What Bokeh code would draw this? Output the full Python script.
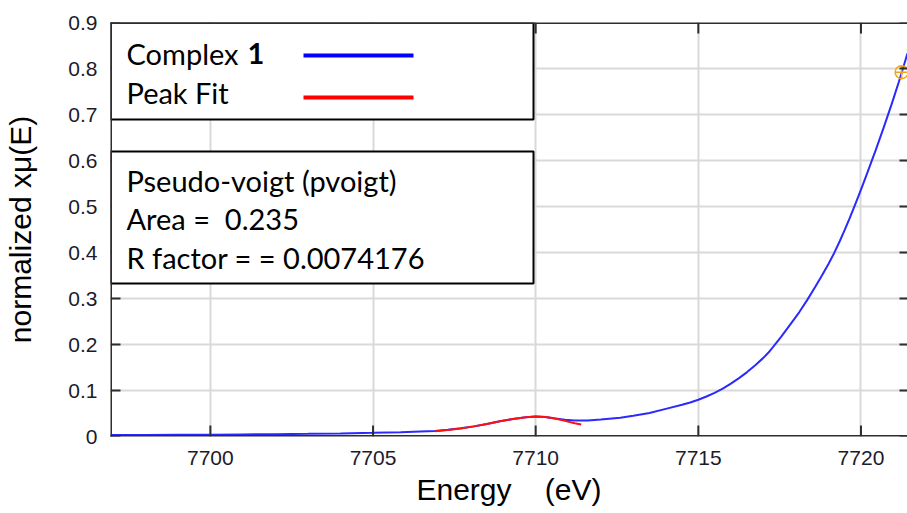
from bokeh.plotting import figure
from bokeh.models import Range1d, FixedTicker, BoxAnnotation, Label
from bokeh.embed import file_html
from bokeh.resources import INLINE

# ---------------- data ----------------
energy = [7696.93, 7698.0, 7699.0, 7700.0, 7701.0, 7702.0, 7703.0, 7704.0, 7705.0,
          7705.85, 7706.45, 7706.9, 7707.3, 7707.7, 7708.1, 7708.5, 7708.9, 7709.3,
          7709.7, 7710.0, 7710.3, 7710.6, 7710.9, 7711.2, 7711.6, 7712.0, 7712.6,
          7713.0, 7713.5, 7714.0, 7714.5, 7714.75, 7715.0, 7715.25, 7715.5, 7715.75,
          7716.0, 7716.25, 7716.5, 7716.75, 7717.0, 7717.15, 7717.3, 7717.55, 7717.8,
          7718.1, 7718.35, 7718.6, 7718.8, 7719.0, 7719.17, 7719.35, 7719.5, 7719.65,
          7719.78, 7719.92, 7720.05, 7720.2, 7720.33, 7720.45, 7720.58, 7720.7,
          7720.82, 7720.94, 7721.05, 7721.16, 7721.26, 7721.35, 7721.43]
mu = [0.003, 0.0033, 0.0036, 0.004, 0.0045, 0.005, 0.0058, 0.0067, 0.008,
      0.0094, 0.011, 0.012, 0.0145, 0.018, 0.022, 0.027, 0.033, 0.038,
      0.042, 0.0435, 0.0425, 0.039, 0.0365, 0.035, 0.035, 0.037, 0.041,
      0.045, 0.051, 0.060, 0.069, 0.074, 0.080, 0.087, 0.095, 0.104,
      0.115, 0.127, 0.140, 0.155, 0.171, 0.182, 0.195, 0.217, 0.241,
      0.270, 0.297, 0.326, 0.350, 0.375, 0.398, 0.425, 0.449, 0.474,
      0.497, 0.522, 0.546, 0.574, 0.599, 0.622, 0.648, 0.672,
      0.697, 0.722, 0.746, 0.770, 0.793, 0.814, 0.833]

fit_energy = [7706.9, 7707.3, 7707.7, 7708.1, 7708.5, 7708.9, 7709.3, 7709.7,
              7710.0, 7710.3, 7710.6, 7710.9, 7711.2, 7711.4]
fit_mu = [0.0116, 0.014, 0.0175, 0.022, 0.027, 0.033, 0.038, 0.042,
          0.0435, 0.0425, 0.039, 0.034, 0.029, 0.026]

marker_energy = [7721.25]
marker_mu = [0.792]

x_ticks = [7700, 7705, 7710, 7715, 7720]
x_tick_labels = ["7700", "7705", "7710", "7715", "7720"]
y_ticks = [0, 0.1, 0.2, 0.3, 0.4, 0.5, 0.6, 0.7, 0.8, 0.9]
y_tick_labels = ["0", "0.1", "0.2", "0.3", "0.4", "0.5", "0.6", "0.7", "0.8", "0.9"]

series_label = "Complex"
series_number = "1"
fit_label = "Peak Fit"
fit_info = ["Pseudo-voigt (pvoigt)", "Area =\u00a0 0.235", "R factor = = 0.0074176"]

x_title = "Energy\u00a0\u00a0\u00a0 (eV)"
y_title = "normalized x\u03bc(E)"

# ---------------- layout ----------------
W, H = 907, 513
X0, X1 = 7696.93, 7721.43
Y0, Y1 = 0.0, 0.9
FL, FR, FT, FB = 110, 907, 22, 436   # frame edges in canvas pixels
PX = (X1 - X0) / (FR - FL)           # data units per pixel, x
PY = (Y1 - Y0) / (FB - FT)           # data units per pixel, y


def dx(px):
    return X0 + (px - FL) * PX


def dy(py):
    return Y0 + (FB - py) * PY


p = figure(width=W, height=H, output_backend="svg", toolbar_location=None,
           x_range=Range1d(X0, X1), y_range=Range1d(Y0, Y1),
           min_border_left=FL, min_border_right=W - FR,
           min_border_top=FT, min_border_bottom=H - FB,
           x_axis_label=x_title, y_axis_label=y_title)
p.outline_line_color = None
p.background_fill_color = "white"
p.border_fill_color = "white"

AX_COL = "#2e2e2e"
TICK_FONT = "Liberation Sans"
TICK_COL = "#1b1b2b"

for ax, ticks, labels in ((p.xaxis[0], x_ticks, x_tick_labels),
                          (p.yaxis[0], y_ticks, y_tick_labels)):
    ax.ticker = FixedTicker(ticks=ticks)
    ax.major_label_overrides = dict(zip(ticks, labels))
    ax.axis_line_color = None
    ax.major_tick_line_color = None
    ax.major_tick_out = 0
    ax.major_tick_in = 0
    ax.minor_tick_line_color = None
    ax.major_label_text_font = TICK_FONT
    ax.major_label_text_font_size = "21px"
    ax.major_label_text_color = TICK_COL
    ax.axis_label_text_font = TICK_FONT
    ax.axis_label_text_font_size = "30px"
    ax.axis_label_text_font_style = "normal"
    ax.axis_label_text_color = "black"

p.xaxis[0].major_label_standoff = 14
p.xaxis[0].axis_label_standoff = 5
p.yaxis[0].major_label_standoff = 13
p.yaxis[0].axis_label_standoff = 28

for g in (p.xgrid[0], p.ygrid[0]):
    g.grid_line_color = "#d9d9d9"
    g.grid_line_width = 2
p.xgrid[0].ticker = FixedTicker(ticks=x_ticks)
p.ygrid[0].ticker = FixedTicker(ticks=y_ticks)


def solid_box(left, right, bottom, top):
    p.add_layout(BoxAnnotation(left=left, right=right, bottom=bottom, top=top,
                               fill_color=AX_COL, fill_alpha=1.0,
                               line_color=None))


# tick marks pointing inward on all four sides
for t in x_ticks:
    solid_box(t - PX, t + PX, Y0, Y0 + 11 * PY)
    solid_box(t - PX, t + PX, Y1 - 11 * PY, Y1)
for t in y_ticks:
    solid_box(X0, X0 + 10 * PX, t - PY, t + PY)
    solid_box(X1 - 8 * PX, X1, t - PY, t + PY)

# ---------------- data marks ----------------
BLUE = "#2a2aff"
RED = "#ff1010"
p.line(energy, mu, line_color=BLUE, line_width=2)
p.line(fit_energy, fit_mu, line_color=RED, line_width=2)
p.scatter(marker_energy, marker_mu, marker="circle_cross", size=13,
          fill_color=None, line_color="#f2a51a", line_width=1.5)

# ---------------- legend-like boxes ----------------
for top_px, bot_px in ((FT, 119), (151, 283)):
    p.add_layout(BoxAnnotation(left=X0, right=dx(533), top=dy(top_px),
                               bottom=dy(bot_px),
                               fill_color="white", fill_alpha=1.0,
                               line_color="black", line_alpha=1.0,
                               line_width=2, line_dash="solid"))

# frame border: left, bottom, top (right side runs past the cut edge)
solid_box(X0 - 1 * PX, X0 + 1.5 * PX, Y0 - 1 * PY, Y1 + 1 * PY)
solid_box(X0 - 1 * PX, X1, Y0 - 1 * PY, Y0 + 1.5 * PY)
solid_box(X0 - 1 * PX, X1, Y1 - 1.5 * PY, Y1 + 1 * PY)

LEG_FONT = "Lato"
LEG_SIZE = "29px"


def add_text(px, py, txt, style="normal"):
    p.add_layout(Label(x=dx(px), y=dy(py), text=txt, text_font=LEG_FONT,
                       text_font_size=LEG_SIZE, text_font_style=style,
                       text_color="black", text_align="left",
                       text_baseline="middle"))


add_text(126, 52.5, series_label)
add_text(247, 52.5, series_number, "bold")
add_text(126, 91.5, fit_label)
for i, t in enumerate(fit_info):
    add_text(126, 180 + i * 38.3, t)

p.line([dx(303), dx(413)], [dy(55), dy(55)], line_color="#0000ff", line_width=4,
       level="overlay")
p.line([dx(303), dx(413)], [dy(97), dy(97)], line_color="#ff0000", line_width=4,
       level="overlay")

open("out.html", "w").write(file_html(p, INLINE))
